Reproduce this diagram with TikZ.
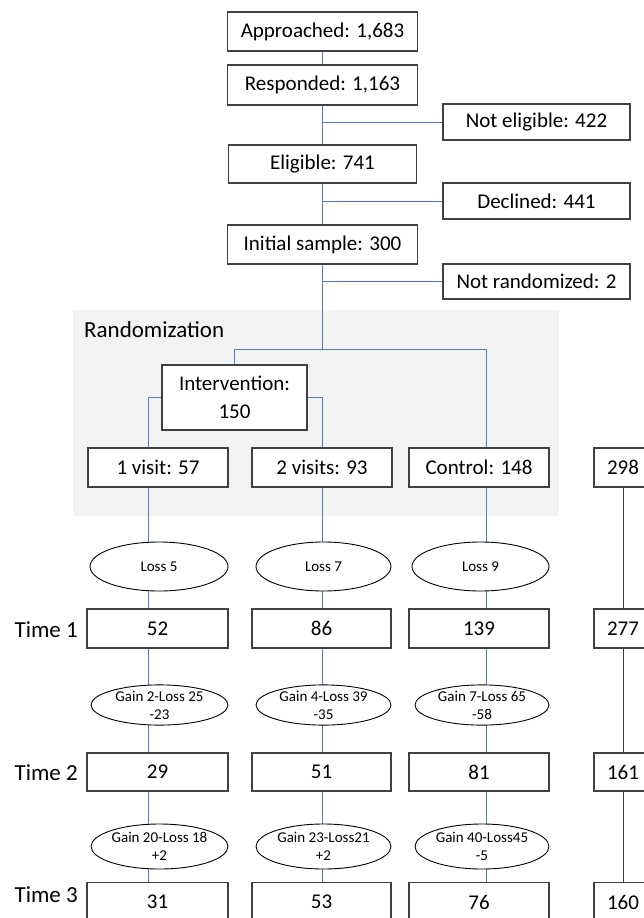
\documentclass[tikz,border=0pt]{standalone}
\usepackage{fontspec}
\setmainfont{Carlito}
\usepackage{tikz}
\usetikzlibrary{shapes,calc,backgrounds}
\definecolor{linkblue}{RGB}{84,121,196}
\definecolor{boxgray}{RGB}{64,64,64}
\definecolor{randgray}{RGB}{242,243,243}

\begin{document}
\begin{tikzpicture}[x=1pt,y=-1pt,
	box_node/.style={rectangle,draw=boxgray,line width=1.2pt,fill=white,inner sep=0pt,minimum height=39pt,font=\fontsize{21}{28}\selectfont,align=center},
	oval_node/.style={ellipse,draw=black,line width=0.9pt,fill=white,inner sep=0pt,minimum height=45pt,font=\fontsize{15}{18}\selectfont,align=center},
	time_node/.style={anchor=east,inner sep=0pt,font=\fontsize{23}{28}\selectfont},
	blue_line/.style={draw=linkblue,line width=0.9pt},
	gray_line/.style={draw=boxgray,line width=0.9pt}]
				\useasboundingbox (0,0) rectangle (643,918);
				\node[anchor=west,inner sep=0pt,font=\fontsize{23}{28}\selectfont](rand) at (84,330){Randomization};
				\node[box_node,minimum width=190pt](appr) at (322.5,31.5){Approached: 1,683};
				\node[box_node,minimum width=190pt,minimum height=40pt](resp) at (322.5,85){Responded: 1,163};
				\node[box_node,minimum width=188pt,minimum height=38pt](elig) at (322.5,164){Eligible: 741};
				\node[box_node,minimum width=190pt](init) at (322.5,244.5){Initial sample: 300};
				\node[box_node,minimum width=187pt,minimum height=36pt](nelig) at (536.5,122){Not eligible: 422};
				\node[box_node,minimum width=187pt,minimum height=36pt](decl) at (536.5,201){Declined: 441};
				\node[box_node,minimum width=187pt,minimum height=35pt](nrand) at (536.5,281.5){Not randomized: 2};
				\node[box_node,minimum width=145pt,minimum height=65pt](interv) at (234.5,397.5){Intervention:\\150};
				\coordinate (split) at (322.5,349);
				\coordinate (ctrlin) at (486,349);
				\coordinate (cola) at (148,0);
				\coordinate (colb) at (322.5,0);
				\coordinate (colc) at (486,0);
				\node[box_node,minimum width=140pt](a0) at (158,467.5){1 visit: 57};
				\node[box_node,minimum width=140pt](b0) at (322,467.5){2 visits: 93};
				\node[box_node,minimum width=140pt](c0) at (479,467.5){Control: 148};
				\node[box_node,minimum width=58pt](d0) at (623,467.5){298};
				\node[oval_node,minimum width=138pt,minimum height=49pt](a1) at (159,566.5){Loss 5};
				\node[oval_node,minimum width=135pt,minimum height=49pt](b1) at (323.5,566.5){Loss 7};
				\node[oval_node,minimum width=137pt,minimum height=49pt](c1) at (480.5,566.5){Loss 9};
				\node[box_node,minimum width=141pt](a2) at (157.5,628.5){52};
				\node[box_node,minimum width=139pt](b2) at (321.5,628.5){86};
				\node[box_node,minimum width=140pt](c2) at (479,628.5){139};
				\node[box_node,minimum width=58pt](d2) at (623,628.5){277};
				\node[oval_node,minimum width=137pt,minimum height=40pt](a3) at (159.5,705){Gain 2-Loss 25\\-23};
				\node[oval_node,minimum width=135pt,minimum height=40pt](b3) at (323.5,705){Gain 4-Loss 39\\-35};
				\node[oval_node,minimum width=134pt,minimum height=40pt](c3) at (482,705){Gain 7-Loss 65\\-58};
				\node[box_node,minimum width=141pt,minimum height=38pt](a4) at (157.5,772){29};
				\node[box_node,minimum width=139pt,minimum height=38pt](b4) at (321.5,772){51};
				\node[box_node,minimum width=140pt,minimum height=38pt](c4) at (479,772){81};
				\node[box_node,minimum width=58pt,minimum height=38pt](d4) at (623,772){161};
				\node[oval_node,minimum width=137pt](a5) at (159.5,846.5){Gain 20-Loss 18\\+2};
				\node[oval_node,minimum width=135pt](b5) at (323.5,846.5){Gain 23-Loss21\\+2};
				\node[oval_node,minimum width=134pt](c5) at (482,846.5){Gain 40-Loss45\\-5};
				\node[box_node,minimum width=141pt](a6) at (157.5,902){31};
				\node[box_node,minimum width=139pt](b6) at (321.5,902){53};
				\node[box_node,minimum width=140pt](c6) at (479,902){76};
				\node[box_node,minimum width=58pt](d6) at (623,902){160};
				\node[time_node](time1) at (78,630){Time 1};
				\node[time_node](time2) at (78,773){Time 2};
				\node[time_node](time3) at (78,895){Time 3};
				\begin{scope}[on background layer]
				\fill[randgray] (73,310) rectangle (559,516);
				\path[blue_line]
				(appr) edge (resp)
				(resp) edge (elig)
				(elig) edge (init)
				(init) edge (split);
				\draw[blue_line] (nelig) -- (nelig -| resp);
				\draw[blue_line] (decl) -- (decl -| elig);
				\draw[blue_line] (nrand) -- (nrand -| init);
				\draw[blue_line] (interv) |- (ctrlin) -- (ctrlin |- c0);
				\draw[blue_line] (interv) -| (a0 -| cola);
				\draw[blue_line] (interv) -| (b0 -| colb);
				\foreach \col in {a,b,c}
					\foreach \i/\j in {0/1,1/2,2/3,3/4,4/5,5/6}
						\draw[blue_line] (\col\i -| col\col) -- (\col\j -| col\col);
				\foreach \i/\j in {0/2,2/4,4/6}
					\draw[gray_line] (d\i) -- (d\j);
				\end{scope}
			\end{tikzpicture}
\end{document}
